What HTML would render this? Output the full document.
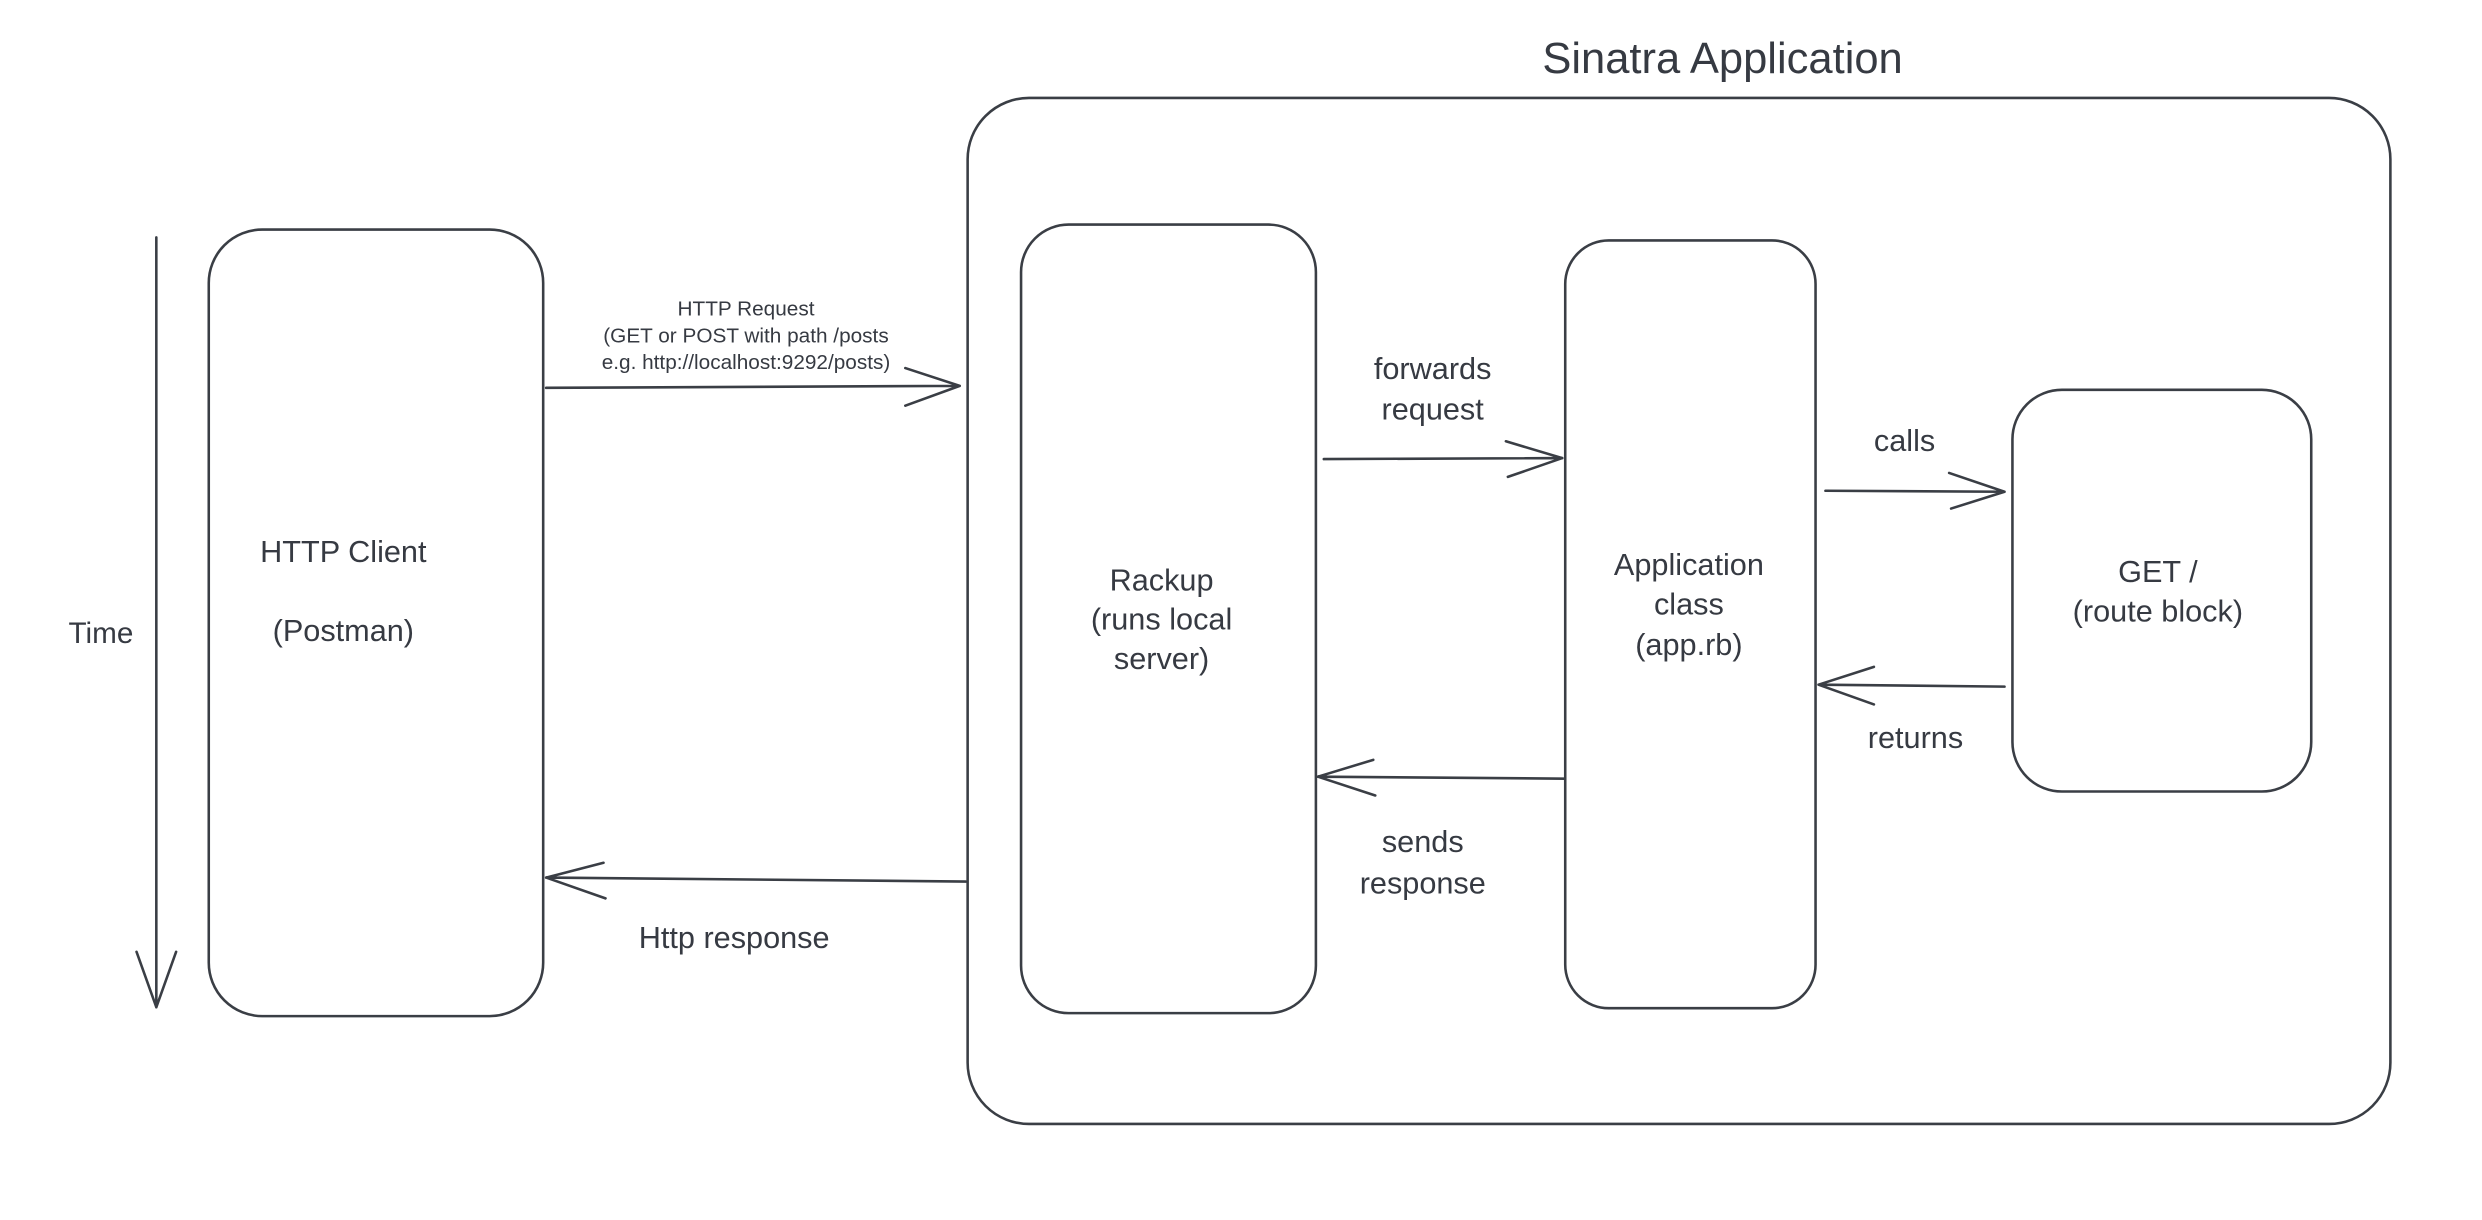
<!DOCTYPE html>
<html><head><meta charset="utf-8"><style>
html,body{margin:0;padding:0;background:#fff;}
svg{display:block}
text{font-family:"Liberation Sans",sans-serif;fill:#363a42;text-anchor:middle}
</style></head><body>
<svg width="2482" height="1220" viewBox="0 0 2482 1220" xmlns="http://www.w3.org/2000/svg">
<g transform="scale(0.9894)">
<g fill="none" stroke="#3a3e45" stroke-width="2.6" stroke-linecap="round" stroke-linejoin="round">
<rect x="978" y="99" width="1438" height="1037" rx="62"/>
<rect x="211" y="232" width="338" height="795" rx="54"/>
<rect x="1032" y="227" width="298" height="797" rx="48"/>
<rect x="1582" y="243" width="253" height="776" rx="44"/>
<rect x="2034" y="394" width="302" height="406" rx="50"/>
<path d="M158 240 L158 1018 M138 962 L158 1018 L178 962"/>
<path d="M552 392 L970 390 M915 372 L970 390 L915 410"/>
<path d="M976 891 L552 887 M610 872 L552 887 L612 908"/>
<path d="M1338 464 L1579 463 M1522 446 L1579 463 L1524 482"/>
<path d="M1582 787 L1332 785 M1388 768 L1332 785 L1390 804"/>
<path d="M1845 496 L2026 497 M1970 478 L2026 497 L1972 514"/>
<path d="M2026 694 L1838 692 M1894 674 L1838 692 L1894 712"/>
</g>
<text x="1741" y="74" font-size="44">Sinatra Application</text>
<text x="102" y="650" font-size="30">Time</text>
<text x="347" y="568" font-size="31">HTTP Client</text>
<text x="347" y="648" font-size="31">(Postman)</text>
<text x="1174" y="597" font-size="31">Rackup</text>
<text x="1174" y="636" font-size="31">(runs local</text>
<text x="1174" y="676" font-size="31">server)</text>
<text x="1707" y="581" font-size="31">Application</text>
<text x="1707" y="621" font-size="31">class</text>
<text x="1707" y="662" font-size="31">(app.rb)</text>
<text x="2181" y="588" font-size="31">GET /</text>
<text x="2181" y="628" font-size="31">(route block)</text>
<text x="754" y="319" font-size="21">HTTP Request</text>
<text x="754" y="346" font-size="21">(GET or POST with path /posts</text>
<text x="754" y="373" font-size="21">e.g. http://localhost:9292/posts)</text>
<text x="742" y="958" font-size="31">Http response</text>
<text x="1448" y="383" font-size="31">forwards</text>
<text x="1448" y="424" font-size="31">request</text>
<text x="1438" y="861" font-size="31">sends</text>
<text x="1438" y="903" font-size="31">response</text>
<text x="1925" y="456" font-size="31">calls</text>
<text x="1936" y="756" font-size="31">returns</text>
</g>
</svg>
</body></html>
